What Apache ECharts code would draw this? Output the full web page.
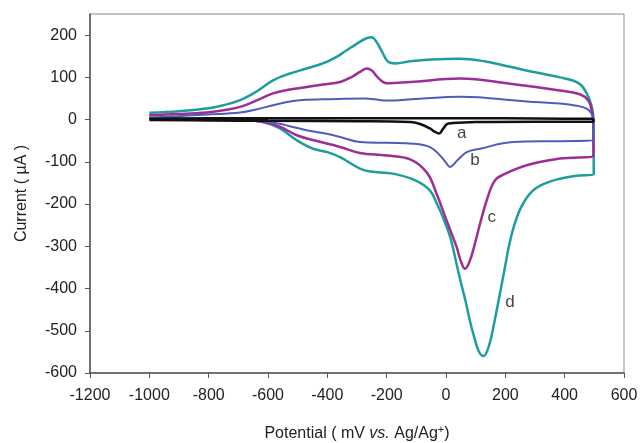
<!DOCTYPE html>
<html>
<head>
<meta charset="utf-8">
<script src="https://cdn.jsdelivr.net/npm/echarts@6/dist/echarts.min.js"></script>
<style>
  html, body { margin: 0; padding: 0; background: #fff; }
  #chart { width: 641px; height: 443px; }
</style>
</head>
<body>
<div id="chart"></div>
<script>
// curve a (black) - potential (mV) and current (uA), closed loop
const aPotential = [-1000, -800, -600, -400, -200, 0, 200, 400, 490, 497,
  497, 300, 100, 8, -10, -23, -40, -54, -90, -121, -300, -600, -800, -1000];
const aCurrent = [2, 3, 3, 3, 3, 3, 3, 2, 2, 0,
  -5, -5, -6, -9, -22, -33, -28, -21, -10, -6, -4, -3, -2, -1];

// curve b (blue)
const bPotential = [-1000, -900, -807, -694, -640, -583, -526, -470, -415, -273, -240, -200, -100, 47, 272, 384, 440, 474, 490, 496,
  497, 384, 226, 115, 70, 40, 13, 0, -20, -54, -110, -200, -290, -357, -415, -470, -530, -560, -616, -694, -800, -1000];
const bCurrent = [5, 8, 12, 17, 24, 34, 43, 47, 48, 50, 48, 45, 49, 54, 43, 38, 33, 26, 15, 0,
  -49, -51, -53, -69, -77, -95, -112, -102, -85, -65, -57, -55, -53, -41, -32, -25, -15, -10, -4, 0, 1, 2];

// curve c (purple)
const cPotential = [-1000, -900, -807, -750, -694, -640, -583, -526, -470, -415, -357, -320, -290, -267, -250, -230, -200, -121, 47, 216, 384, 451, 479, 490, 496,
  497, 384, 272, 200, 165, 140, 115, 95, 80, 64, 50, 36, 2, -32, -65, -121, -200, -290, -357, -445, -503, -560, -616, -694, -800, -1000];
const cCurrent = [10, 13, 17, 22, 30, 45, 62, 71, 77, 83, 89, 100, 113, 121, 116, 100, 86, 89, 97, 85, 69, 60, 46, 25, 0,
  -85, -92, -108, -128, -144, -185, -246, -300, -335, -353, -335, -302, -239, -175, -125, -94, -85, -79, -65, -49, -37, -17, -6, 0, 1, 2];

// curve d (teal)
const dPotential = [-1000, -900, -807, -750, -694, -640, -583, -526, -470, -415, -370, -335, -300, -270, -250, -235, -215, -195, -170, -121, -50, 47, 130, 216, 300, 384, 430, 455, 472, 485, 493, 497,
  498, 440, 384, 330, 290, 255, 230, 212, 200, 182, 162, 145, 126, 110, 95, 80, 66, 50, 35, 15, -10, -30, -54, -100, -178, -256, -290, -357, -400, -448, -503, -560, -616, -694, -800, -1000];
const dCurrent = [16, 20, 26, 34, 46, 66, 93, 109, 121, 133, 148, 164, 180, 192, 195, 185, 160, 137, 133, 138, 142, 144, 138, 125, 112, 100, 92, 82, 65, 45, 25, 0,
  -128, -133, -140, -152, -170, -205, -250, -300, -345, -411, -483, -535, -560, -548, -515, -475, -430, -385, -340, -280, -232, -200, -168, -145, -128, -123, -116, -89, -77, -69, -49, -21, -6, 1, 2, 3];

// curve tags
const tagNames = ['a', 'b', 'c', 'd'];
const tagPotential = [53, 98, 154, 216];
const tagCurrent = [-33, -96, -232, -432];

const xTicks = [-1200, -1000, -800, -600, -400, -200, 0, 200, 400, 600];
const yTicks = [-600, -500, -400, -300, -200, -100, 0, 100, 200];

function pairs(xs, ys) {
  return xs.map(function (x, i) { return [x, ys[i]]; });
}

function curve(name, xs, ys, color, width) {
  return {
    name: name,
    type: 'line',
    data: pairs(xs, ys),
    smooth: 0.4,
    showSymbol: false,
    silent: true,
    lineStyle: { color: color, width: width },
    z: 2
  };
}

const chart = echarts.init(document.getElementById('chart'));
const font = 'Liberation Sans, Arial, sans-serif';

chart.setOption({
  backgroundColor: '#ffffff',
  animation: false,
  grid: {
    left: 90, right: 17, top: 14, bottom: 70,
    outerBoundsMode: 'none',
    containLabel: false,
    show: true, borderColor: '#8a8a8a', borderWidth: 1
  },
  xAxis: {
    type: 'value',
    min: -1200, max: 600, interval: 200,
    name: 'Potential ( mV {i|vs.} Ag/Ag{sup|+})',
    nameLocation: 'middle',
    nameGap: 51,
    nameTextStyle: {
      fontFamily: font, fontSize: 16, color: '#222',
      rich: {
        i: { fontFamily: font, fontSize: 16, fontStyle: 'italic', color: '#222' },
        sup: { fontFamily: font, fontSize: 11, color: '#222', padding: [0, 0, 9, 0] }
      }
    },
    axisLine: { onZero: false, lineStyle: { color: '#555', width: 1.5 } },
    axisTick: { show: true, inside: false, length: 5, lineStyle: { color: '#555' }, customValues: xTicks },
    axisLabel: {
      fontFamily: font, fontSize: 16, color: '#222', margin: 15, customValues: xTicks,
      formatter: function (v) { return String(v); }
    },
    splitLine: { show: false }
  },
  yAxis: {
    type: 'value',
    min: -600, max: 250, interval: 100,
    name: 'Current ( µA )',
    nameLocation: 'middle',
    nameGap: 60,
    nameTextStyle: { fontFamily: font, fontSize: 16, color: '#222' },
    axisLine: { onZero: false, lineStyle: { color: '#555', width: 1.5 } },
    axisTick: { show: true, inside: false, length: 5, lineStyle: { color: '#555' }, customValues: yTicks },
    axisLabel: {
      fontFamily: font, fontSize: 16, color: '#222', margin: 13, customValues: yTicks,
      formatter: function (v) { return String(v); }
    },
    splitLine: { show: false }
  },
  series: [
    curve('d', dPotential, dCurrent, '#1f9d9d', 2.5),
    curve('c', cPotential, cCurrent, '#9c2e94', 2.5),
    curve('b', bPotential, bCurrent, '#4f5cb8', 2),
    curve('a', aPotential, aCurrent, '#111111', 2.5),
    {
      type: 'scatter',
      silent: true,
      symbolSize: 0,
      data: tagNames.map(function (t, i) { return [tagPotential[i], tagCurrent[i], t]; }),
      label: {
        show: true,
        position: 'inside',
        formatter: function (p) { return p.value[2]; },
        fontFamily: font, fontSize: 17, color: '#111'
      },
      z: 3
    }
  ]
});

window.addEventListener('resize', function () {
  chart.resize();
});
</script>
</body>
</html>
